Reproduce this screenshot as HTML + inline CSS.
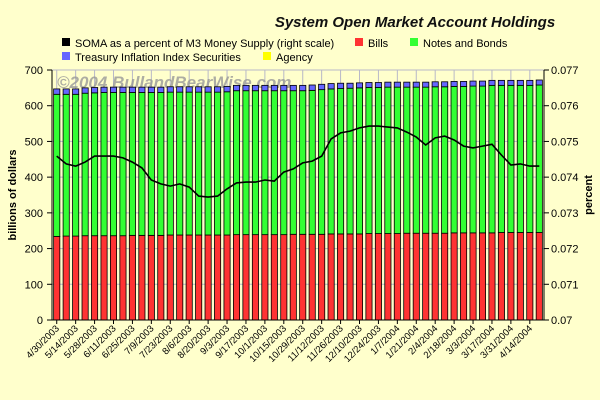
<!DOCTYPE html>
<html><head><meta charset="utf-8"><style>
body{margin:0;background:#FFFFCC;}
svg{display:block;font-family:"Liberation Sans",sans-serif;}
</style></head><body>
<svg id="chart" width="600" height="400" viewBox="0 0 600 400">
<rect x="0" y="0" width="600" height="400" fill="#FFFFCC"/>
<text x="415" y="27" text-anchor="middle" font-size="15" font-weight="bold" font-style="italic" fill="#111">System Open Market Account Holdings</text>
<g font-size="11" fill="#000">
<g><rect x="62" y="38" width="8" height="8" fill="#000"/><text x="75" y="47">SOMA as a percent of M3 Money Supply (right scale)</text></g>
<g><rect x="355" y="38" width="8" height="8" fill="#FF3333"/><text x="368" y="47">Bills</text></g>
<g><rect x="410" y="38" width="8" height="8" fill="#33FF33"/><text x="423" y="47">Notes and Bonds</text></g>
<g><rect x="62" y="52" width="8" height="8" fill="#6666FF"/><text x="75" y="61">Treasury Inflation Index Securities</text></g>
<g><rect x="263" y="52" width="8" height="8" fill="#FFFF00"/><text x="276" y="61">Agency</text></g>
</g>
<text transform="translate(16,195) rotate(-90)" text-anchor="middle" font-size="11" font-weight="bold">billions of dollars</text>
<text transform="translate(592,195) rotate(-90)" text-anchor="middle" font-size="11" font-weight="bold">percent</text>
<g id="plot"></g>
</svg>
<script>
const categories=["4/30/2003","5/7/2003","5/14/2003","5/21/2003","5/28/2003","6/4/2003","6/11/2003","6/18/2003","6/25/2003","7/2/2003","7/9/2003","7/16/2003","7/23/2003","7/30/2003","8/6/2003","8/13/2003","8/20/2003","8/27/2003","9/3/2003","9/10/2003","9/17/2003","9/24/2003","10/1/2003","10/8/2003","10/15/2003","10/22/2003","10/29/2003","11/5/2003","11/12/2003","11/19/2003","11/26/2003","12/3/2003","12/10/2003","12/17/2003","12/24/2003","12/31/2003","1/7/2004","1/14/2004","1/21/2004","1/28/2004","2/4/2004","2/11/2004","2/18/2004","2/25/2004","3/3/2004","3/10/2004","3/17/2004","3/24/2004","3/31/2004","4/7/2004","4/14/2004","4/21/2004"];
const bills=[234,235,235,236,236,236,236,236,237,237,237,237,238,238,238,238,238,238,238,239,239,239,239,239,239,240,240,240,240,241,241,241,241,242,242,242,242,243,243,243,243,243,244,244,244,244,244,245,245,245,245,245];
const notes=[398,397,397,399,400,401,401,401,400,400,400,400,400,400,400,400,400,400,401,403,403,403,403,403,403,402,402,403,405,406,407,408,409,409,409,410,410,409,409,409,410,410,410,410,411,411,413,412,412,412,412,413];
const tiis=[15,15,15,15,15,15,15,15,15,15,15,15,15,15,15,15,15,15,15,15,15,15,15,15,15,15,15,15,15,15,15,14,14,14,14,14,14,14,14,14,14,14,14,14,14,14,14,14,14,14,14,14];
const agency=[0,0,0,0,0,0,0,0,0,0,0,0,0,0,0,0,0,0,0,0,0,0,0,0,0,0,0,0,0,0,0,0,0,0,0,0,0,0,0,0,0,0,0,0,0,0,0,0,0,0,0,0];
const somaPct=[0.07459,0.07437,0.07431,0.07442,0.07459,0.07459,0.07459,0.07454,0.07442,0.07426,0.07392,0.07381,0.07375,0.07381,0.07372,0.07347,0.07344,0.07347,0.07367,0.07384,0.07386,0.07386,0.07392,0.07389,0.07414,0.07423,0.0744,0.07445,0.07459,0.07507,0.07524,0.07529,0.07538,0.07543,0.07543,0.0754,0.07538,0.07526,0.07512,0.0749,0.0751,0.07515,0.07504,0.07487,0.07482,0.07487,0.07492,0.07462,0.07434,0.07437,0.07431,0.07431];
const leftTicks=[0,100,200,300,400,500,600,700];
const rightTicks=["0.07","0.071","0.072","0.073","0.074","0.075","0.076","0.077"];

const NS="http://www.w3.org/2000/svg";
const L=52,R=544,T=70,B=320;
const slot=(R-L)/categories.length;
const yL=v=>B-(v/700)*(B-T);
const yR=v=>B-((v-0.07)/0.007)*(B-T);
const xC=i=>L+slot*(i+0.5);
const plot=document.getElementById('plot');
function mk(tag,attrs,parent){const e=document.createElementNS(NS,tag);for(const k in attrs)e.setAttribute(k,attrs[k]);(parent||plot).appendChild(e);return e;}

leftTicks.forEach((t,j)=>{
  const g=mk('line',{x1:L,x2:R,y1:yL(t),y2:yL(t),stroke:'#b8b8c8','stroke-width':1});
  
  
});
categories.forEach((c,i)=>{
  if(i%2===0){
    const g=mk('line',{x1:xC(i),x2:xC(i),y1:T,y2:B,stroke:'#b8b8c8','stroke-width':1});
    
    
  }
});
const wm=mk('text',{x:57,y:88,'font-size':17,'font-weight':'bold','font-style':'italic',fill:'#999','fill-opacity':0.8});
wm.textContent='©2004 BullandBearWise.com';


const bw=6.2;
categories.forEach((c,i)=>{
  const x=xC(i)-bw/2;
  let base=0;
  const segs=[[bills[i],'#FF3333','bar-bills'],[notes[i],'#33FF33','bar-notes'],[tiis[i],'#6666FF','bar-tiis'],[agency[i],'#FFFF00','bar-agency']];
  segs.forEach(s=>{
    if(s[0]<=0)return;
    const y1=yL(base+s[0]),y0=yL(base);
    const r=mk('rect',{x:x,y:y1,width:bw,height:y0-y1,fill:s[1],stroke:'#000','stroke-width':0.8});
    
    
    base+=s[0];
  });
});
const pts=somaPct.map((v,i)=>xC(i).toFixed(1)+','+yR(v).toFixed(1)).join(' ');
const ln=mk('polyline',{points:pts,fill:'none',stroke:'#000','stroke-width':1.6});


const ax=mk('path',{d:`M${L},${T}V${B}H${R}V${T}`,fill:'none',stroke:'#000','stroke-width':1});


leftTicks.forEach(t=>{
  mk('line',{x1:L-5,x2:L,y1:yL(t),y2:yL(t),stroke:'#000'});
  const tx=mk('text',{x:L-9,y:yL(t)+4,'text-anchor':'end','font-size':11});
  tx.textContent=t;
  
  
});
rightTicks.forEach(t=>{
  const y=yR(parseFloat(t));
  mk('line',{x1:R,x2:R+5,y1:y,y2:y,stroke:'#000'});
  const tx=mk('text',{x:R+7,y:y+4,'font-size':11});
  tx.textContent=t;
  
  
});
categories.forEach((c,i)=>{
  if(i%2!==0)return;
  mk('line',{x1:xC(i),x2:xC(i),y1:B,y2:B+4,stroke:'#000'});
  const tx=mk('text',{transform:`translate(${xC(i)+3},${B+9}) rotate(-45)`,'text-anchor':'end','font-size':9.5});
  tx.textContent=c;
  
  
});
</script>
</body></html>
